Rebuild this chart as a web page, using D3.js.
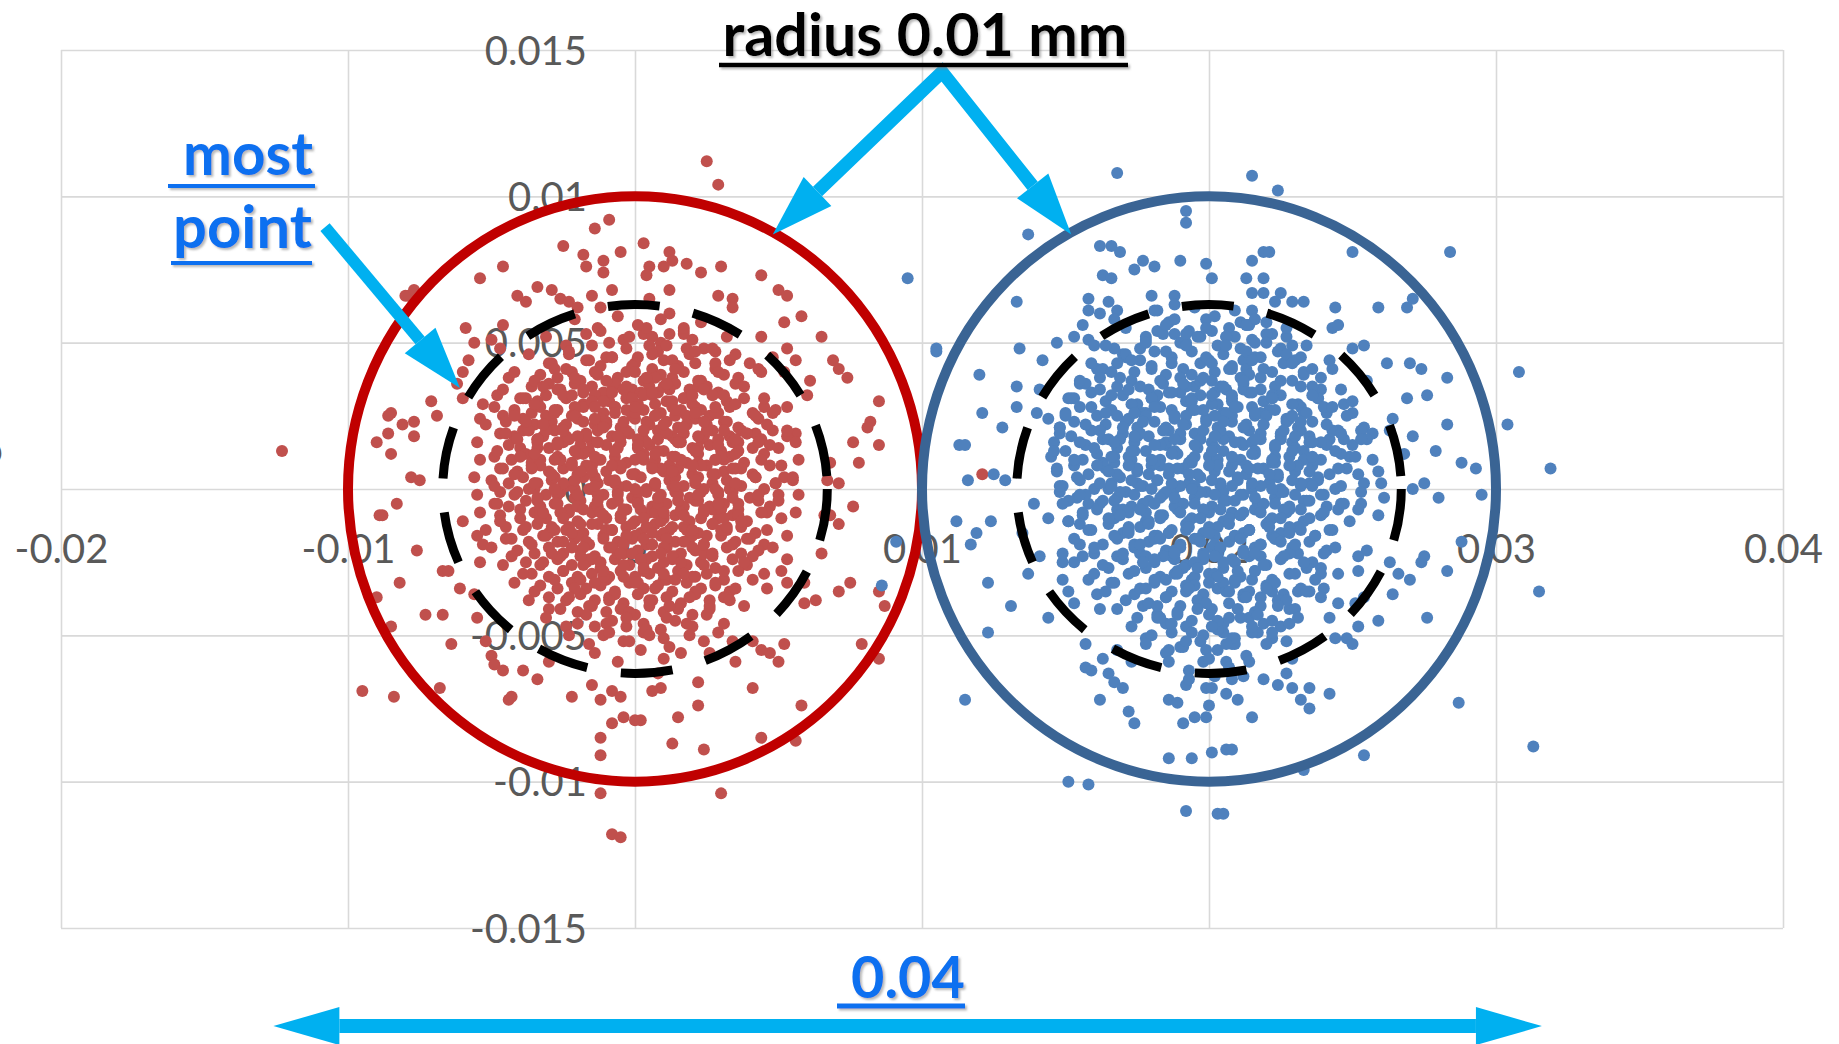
<!DOCTYPE html>
<html>
<head>
<meta charset="utf-8">
<script src="https://cdn.jsdelivr.net/npm/d3@7"></script>
<style>
  body { margin: 0; background: #fff; }
  svg { display: block; font-family: Lato, "Open Sans", sans-serif; }
</style>
</head>
<body>
<div id="chart"></div>
<script>
// all values in units of 0.0001 mm
var xTicks = [-200, -100, 0, 100, 200, 300, 400];
var xTickLabels = ["-0.02", "-0.01", "0", "0.01", "0.02", "0.03", "0.04"];
var yTicks = [-150, -100, -50, 0, 50, 100, 150];
var yTickLabels = ["-0.015", "-0.01", "-0.005", "0", "0.005", "0.01", "0.015"];

var centers = [[0, 0], [200, 0]];
var outerRadius = 100;          // 0.01 mm
var dashedRadius = [67, 63];    // drawn shape, slightly wider than tall

// red series: loose points first, then the dense core
var redPoints = [
  -9,92, -14,89, -25,83, -18,80, -11,78, -5,81, -17,76, -11,74, -46,76, -54,72, -34,69, -41,66, -38,64, -29,68, -26,65, -23,64, -20,62, -15,66, -8,68, -12,62,
  -79,66, -59,55, -46,56, -56,50, -50,51, -47,48, -58,44, -60,40, -44,38, -48,32, -62,36, -60,31, -53,29, -71,30, -69,25, -85,26, -81,22, -77,23, -90,16, -86,19,
  -85,12, -77,18, -54,24, -46,25, -42,26, -38,31, -39,20, -78,4, -75,3,
  25,112, 29,104, 3,84, 12,81, 13,78, 18,77, 5,76, 10,76, 23,74, 30,76, 4,73, 44,73, 12,68, 29,66, 34,65, 34,62, 50,68, 53,66, 12,60, 5,65,
  58,59, 52,57, 17,54, 3,53, 6,52, 44,52, 65,52, 18,48, 28,47, 33,44, 53,48, 56,44, 69,44, 71,41, 74,38, 48,45, 40,43, 44,40, 52,40, 61,37,
  60,32, 53,28, 85,30, 82,23, 81,21, 76,16, 85,15, 78,9, 71,2, 56,19, 53,18, 48,20, 48,26, 45,28, 42,19, 37,20, 68,9, 67,3, 52,4, 55,3,
  -83,-5, -88,-9, -76,-21, -60,-11, -55,-16, -53,-19, -54,-25, -67,-28, -65,-28, -61,-34, -56,-36, -82,-32, -90,-37, -73,-43, -67,-43, -85,-47, -64,-53, -95,-69, -84,-71, -68,-68,
  -55,-44, -52,-52, -50,-57, -49,-60, -46,-62, -39,-62, -34,-65, -30,-59, -44,-72, -43,-71, -22,-71, -15,-67, -12,-72, -8,-69, -5,-71, -8,-80, -4,-78, 0,-79, -12,-85, -12,-91,
  -12,-104, -8,-118, -5,-119,
  76,-6, 66,-9, 68,-9, 71,-12, 65,-22, 75,-32, 71,-35, 63,-38, 59,-39, 85,-35, 87,-40, 53,-24, 51,-28, 53,-32, 59,-32, 46,-34, 52,-53, 50,-59, 47,-56, 44,-55,
  41,-52, 79,-53, 85,-58, 58,-74, 44,-85, 56,-86, 41,-68, 35,-59, 34,-52, 29,-49, 26,-56, 22,-66, 22,-74, 15,-78, 13,-87, 24,-89, 30,-104, 9,-68, 6,-69, 8,-63, 2,-79,
  -123,13, -80,66, -77,68, -86,25, -89,-9, 121,5,
  // core
  -12,54, -4,51, 4,55, 9,50, 17,53,
  -23,46, -15,49, -10,45, -3,48, 1,45, 8,47, 11,49, 19,46, 24,48,
  -29,43, -24,41, -17,44, -12,42, -8,45, 0,43, 6,41, 10,44, 15,42, 21,43, 28,41,
  -33,39, -27,38, -22,40, -19,37, -13,39, -6,38, -3,40, 3,37, 9,39, 13,38, 17,40, 23,37, 31,39,
  -36,35, -30,36, -26,34, -21,36, -15,35, -11,33, -7,36, -1,34, 5,35, 8,33, 14,36, 19,34, 25,35, 29,33, 35,36,
  -40,31, -34,30, -31,32, -24,31, -18,29, -14,32, -9,30, -3,31, 1,29, 6,32, 11,30, 17,31, 20,29, 27,32, 32,30, 38,31,
  -42,27, -36,26, -33,28, -27,27, -22,25, -18,28, -11,26, -7,28, -1,25, 3,27, 9,26, 13,28, 18,25, 23,27, 29,26, 33,28, 41,26,
  -45,23, -39,24, -35,22, -29,23, -25,21, -20,24, -14,22, -10,23, -5,21, 0,24, 5,22, 11,23, 15,21, 21,24, 25,22, 31,23, 36,21, 43,24,
  -47,19, -42,18, -37,20, -32,18, -28,20, -23,17, -17,19, -13,20, -8,18, -2,19, 3,17, 8,20, 13,18, 17,19, 23,17, 27,20, 33,18, 39,19, 44,17,
  -44,15, -40,14, -34,16, -30,14, -25,16, -19,15, -16,13, -10,15, -5,16, 1,14, 5,15, 10,13, 16,16, 20,14, 26,15, 30,13, 36,16, 41,14, 47,15,
  -49,11, -43,10, -38,12, -33,10, -27,11, -22,9, -18,12, -13,10, -7,11, -3,9, 3,12, 7,10, 13,11, 18,9, 22,12, 28,10, 33,11, 38,9, 45,12,
  -46,7, -41,6, -36,8, -30,6, -25,7, -20,5, -15,8, -10,6, -5,7, 0,5, 6,8, 10,6, 15,7, 20,5, 25,8, 31,6, 35,7, 41,5, 47,8,
  -50,3, -44,2, -39,4, -34,2, -29,3, -24,1, -18,4, -13,2, -9,3, -3,1, 2,4, 7,2, 12,3, 17,1, 22,4, 27,2, 32,3, 37,1, 42,4, 49,2,
  -47,-1, -42,-2, -37,0, -31,-2, -26,-1, -21,-3, -16,0, -11,-2, -6,-1, -1,-3, 4,0, 9,-2, 14,-1, 19,-3, 24,0, 29,-2, 34,-1, 40,-3, 45,0, 50,-2,
  -49,-5, -44,-6, -38,-4, -33,-6, -28,-5, -23,-7, -19,-4, -14,-6, -8,-5, -4,-7, 1,-4, 6,-6, 11,-5, 16,-7, 21,-4, 26,-6, 31,-5, 36,-7, 43,-4, 47,-6,
  -47,-9, -40,-10, -35,-8, -31,-10, -25,-9, -20,-11, -15,-8, -10,-10, -5,-9, 0,-11, 5,-8, 10,-10, 14,-9, 19,-11, 24,-8, 29,-10, 34,-9, 39,-11, 46,-8,
  -45,-13, -39,-14, -34,-12, -28,-14, -23,-13, -18,-15, -13,-12, -8,-14, -3,-13, 2,-15, 7,-12, 12,-14, 17,-13, 22,-15, 27,-12, 32,-14, 37,-13, 42,-15,
  -43,-17, -37,-18, -32,-16, -27,-18, -21,-17, -16,-19, -11,-16, -6,-18, -1,-17, 4,-19, 9,-16, 14,-18, 19,-17, 24,-19, 30,-16, 35,-18, 40,-17, 45,-19,
  -41,-21, -35,-22, -30,-20, -25,-22, -19,-21, -14,-23, -9,-20, -4,-22, 1,-21, 6,-23, 11,-20, 16,-22, 21,-21, 27,-23, 32,-20, 37,-22, 43,-21,
  -38,-25, -33,-26, -27,-24, -22,-26, -17,-25, -12,-27, -7,-24, -2,-26, 3,-25, 8,-27, 13,-24, 18,-26, 23,-25, 28,-27, 34,-24, 39,-26,
  -36,-29, -30,-30, -25,-28, -20,-30, -15,-29, -10,-31, -5,-28, 0,-30, 5,-29, 10,-31, 15,-28, 20,-30, 25,-29, 31,-31, 36,-28,
  -33,-33, -27,-34, -22,-32, -17,-34, -12,-33, -7,-35, -2,-32, 3,-34, 8,-33, 13,-35, 18,-32, 23,-34, 28,-33, 33,-35,
  -30,-37, -24,-38, -19,-36, -14,-38, -9,-37, -4,-39, 1,-36, 6,-38, 11,-37, 16,-39, 21,-36, 26,-38, 31,-37,
  -26,-41, -20,-42, -15,-40, -10,-42, -5,-41, 0,-43, 5,-40, 10,-42, 15,-41, 20,-43, 26,-40,
  -20,-46, -14,-47, -8,-45, -3,-47, 3,-46, 9,-48, 14,-45, 20,-47,
  -11,-50, -4,-52, 3,-49, 10,-51,
  -27,34, -18,33, -8,34, 2,33, 12,34, 22,35,
  -31,25, -21,26, -12,24, -3,27, 7,25, 16,27, 26,25,
  -34,17, -24,18, -15,16, -5,18, 4,16, 14,17, 24,18, 34,16,
  -36,9, -26,10, -17,8, -7,9, 3,10, 12,8, 22,9, 31,10,
  -35,0, -25,2, -15,0, -6,1, 4,-1, 13,1, 23,-1, 33,0,
  -33,-7, -23,-8, -13,-6, -3,-7, 7,-8, 17,-6, 27,-7, 36,-9,
  -30,-15, -20,-16, -10,-14, 0,-16, 10,-15, 20,-16, 30,-14,
  -26,-23, -16,-24, -6,-22, 4,-24, 14,-23, 24,-22,
  -19,-31, -9,-30, 1,-32, 11,-31, 21,-30,
  // wider core
  -21,58, -13,55, -6,59, 1,56, 9,58, 17,55, 23,57,
  -31,52, -24,49, -17,53, -9,50, -2,52, 5,49, 12,53, 20,51, 27,48, 32,52,
  -37,46, -30,43, -23,47, -16,44, -8,45, -1,42, 6,46, 13,44, 21,47, 28,43, 35,46,
  -42,40, -35,37, -28,41, -21,38, -14,40, -7,36, 0,40, 7,38, 14,41, 22,37, 29,40, 36,38, 43,41,
  -46,34, -39,31, -32,35, -25,32, -18,34, -11,30, -4,34, 3,32, 10,35, 17,31, 24,34, 31,32, 38,35, 45,31,
  -49,28, -42,25, -35,29, -28,26, -21,28, -14,24, -7,28, 0,26, 7,29, 14,25, 21,28, 28,26, 35,29, 42,25, 49,27,
  -52,22, -45,19, -38,23, -31,20, -24,22, -17,18, -10,22, -3,20, 4,23, 11,19, 18,22, 25,20, 32,23, 39,19, 46,22, 53,20,
  -55,16, -48,13, -41,17, -34,14, -27,16, -20,12, -13,16, -6,14, 1,17, 8,13, 15,16, 22,14, 29,17, 36,13, 43,16, 50,14, 56,16,
  -54,10, -47,7, -40,11, -33,8, -26,10, -19,6, -12,10, -5,8, 2,11, 9,7, 16,10, 23,8, 30,11, 37,7, 44,10, 51,8, 57,10,
  -56,4, -49,1, -42,5, -35,2, -28,4, -21,0, -14,4, -7,2, 0,5, 7,1, 14,4, 21,2, 28,5, 35,1, 42,4, 49,2, 55,4,
  -55,-2, -48,-5, -41,-1, -34,-4, -27,-2, -20,-6, -13,-2, -6,-4, 1,-1, 8,-5, 15,-2, 22,-4, 29,-1, 36,-5, 43,-2, 50,-4, 57,-2,
  -54,-8, -47,-11, -40,-7, -33,-10, -26,-8, -19,-12, -12,-8, -5,-10, 2,-7, 9,-11, 16,-8, 23,-10, 30,-7, 37,-11, 44,-8, 51,-10, 56,-8,
  -52,-14, -45,-17, -38,-13, -31,-16, -24,-14, -17,-18, -10,-14, -3,-16, 4,-13, 11,-17, 18,-14, 25,-16, 32,-13, 39,-17, 46,-14, 53,-16,
  -50,-20, -43,-23, -36,-19, -29,-22, -22,-20, -15,-24, -8,-20, -1,-22, 6,-19, 13,-23, 20,-20, 27,-22, 34,-19, 41,-23, 48,-20,
  -46,-26, -39,-29, -32,-25, -25,-28, -18,-26, -11,-30, -4,-26, 3,-28, 10,-25, 17,-29, 24,-26, 31,-28, 38,-25, 45,-29,
  -42,-32, -35,-35, -28,-31, -21,-34, -14,-32, -7,-36, 0,-32, 7,-34, 14,-31, 21,-35, 28,-32, 35,-34, 41,-31,
  -37,-38, -30,-41, -23,-37, -16,-40, -9,-38, -2,-42, 5,-38, 12,-40, 19,-37, 26,-41, 33,-38, 38,-40,
  -31,-44, -24,-47, -17,-43, -10,-46, -3,-44, 4,-48, 11,-44, 18,-46, 25,-43, 31,-46,
  -23,-50, -16,-53, -9,-49, -2,-52, 5,-50, 12,-54, 19,-50, 24,-52,
  -14,-56, -6,-59, 2,-55, 10,-58, 16,-56,
  // densest middle
  -10,37, -3,35, 4,38, 11,36,
  -22,32, -15,30, -8,33, -1,31, 6,33, 13,30, 20,32,
  -28,27, -21,25, -14,28, -7,26, 0,28, 7,25, 14,27, 21,26, 28,28,
  -32,22, -25,20, -18,23, -11,21, -4,23, 3,20, 10,22, 17,21, 24,23, 31,20,
  -34,17, -27,15, -20,18, -13,16, -6,18, 1,15, 8,17, 15,16, 22,18, 29,15, 35,17,
  -35,12, -28,10, -21,13, -14,11, -7,13, 0,10, 7,12, 14,11, 21,13, 28,10, 35,12,
  -36,7, -29,5, -22,8, -15,6, -8,8, -1,5, 6,7, 13,6, 20,8, 27,5, 34,7,
  -35,2, -28,0, -21,3, -14,1, -7,3, 0,0, 7,2, 14,1, 21,3, 28,0, 35,2,
  -34,-3, -27,-5, -20,-2, -13,-4, -6,-2, 1,-5, 8,-3, 15,-4, 22,-2, 29,-5, 34,-3,
  -32,-8, -25,-10, -18,-7, -11,-9, -4,-7, 3,-10, 10,-8, 17,-9, 24,-7, 31,-10,
  -29,-13, -22,-15, -15,-12, -8,-14, -1,-12, 6,-15, 13,-13, 20,-14, 27,-12,
  -25,-18, -18,-20, -11,-17, -4,-19, 3,-17, 10,-20, 17,-18, 24,-19,
  -19,-23, -12,-25, -5,-22, 2,-24, 9,-22, 16,-25,
  -11,-28, -4,-30, 3,-27, 10,-29
];

// blue series
var bluePoints = [
  95,72, 105,47, 113,15, 112,-11, 91,-18, 86,-33, 115,-72,
  168,108, 137,87, 192,95, 192,91, 162,83, 166,83, 169,81, 190,78, 199,77, 177,78, 174,75, 181,76, 163,73, 166,72, 201,72,
  133,64, 158,65, 165,64, 158,61, 162,60, 168,61, 167,58, 180,66, 188,66, 188,63, 182,61, 156,56, 153,52, 147,50, 158,51, 160,49,
  134,48, 142,44, 105,48, 120,39, 133,35, 133,28, 121,26, 128,21, 115,15, 116,3, 125,5, 129,3, 161,41, 155,36, 151,31, 141,34,
  140,26, 144,24, 148,21, 167,48, 171,45, 176,48, 182,54, 188,53, 192,50, 197,52, 201,54,
  215,107, 224,102, 250,81, 284,81, 219,81, 221,81, 215,78, 213,72, 219,72, 215,67, 219,67, 225,67, 223,64, 229,64, 233,64, 215,61,
  244,62, 259,62, 269,62, 271,65, 211,57, 213,56, 220,57, 243,55, 245,56, 215,51, 206,52, 250,48, 254,49, 262,43, 270,43, 274,41,
  283,38, 308,40, 269,31, 276,32, 264,24, 263,20, 271,18, 283,22, 304,22, 279,13, 288,9, 293,7, 319,7, 268,12, 275,2, 243,41,
  233,39, 255,37, 247,29, 250,26, 254,21, 257,19, 232,45, 225,48, 229,49, 227,52, 212,44, 216,45, 213,41, 207,41, 239,34, 238,31,
  232,28, 241,26, 245,20, 253,20, 250,15, 255,17, 242,17, 249,11, 257,10, 259,6, 254,2, 260,2,
  119,-15, 117,-19, 124,-11, 123,-32, 131,-40, 123,-49, 144,-44, 137,-29, 135,-15, 151,-100, 158,-101, 192,-110, 203,-111,
  186,-92, 194,-92, 201,-90, 162,-72, 172,-76, 174,-80, 191,-80, 195,-78, 199,-78, 200,-74, 186,-72, 189,-73, 192,-67,
  157,-61, 159,-62, 165,-63, 167,-66, 170,-68, 173,-59, 168,-55, 163,-58, 157,-53, 178,-51, 182,-44, 185,-46, 186,-55, 190,-54,
  198,-59, 199,-68, 202,-64, 149,-25, 149,-31, 151,-35, 153,-39, 161,-36, 162,-41, 158,-31, 166,-32, 168,-23, 153,-25, 149,-22,
  155,-19, 160,-22, 165,-27, 139,-5, 144,-10, 141,-23, 155,-12, 151,-11, 158,-5, 154,-3, 148,-1, 174,-36, 177,-40, 182,-43,
  280,-3, 261,-3, 259,-9, 253,-5, 252,-7, 241,-6, 295,-2, 271,0, 255,-21, 252,-23, 252,-28, 245,-29, 239,-27, 239,-29, 240,-34,
  263,-25, 266,-29, 270,-31, 274,-25, 275,-23, 283,-28, 288,-18, 315,-35, 276,-44, 264,-36, 259,-45, 254,-37, 251,-39, 252,-47,
  248,-51, 250,-53, 244,-51, 245,-39, 242,-44, 229,-58, 227,-63, 224,-67, 229,-68, 235,-68, 242,-70, 232,-72, 235,-75, 215,-78,
  210,-72, 206,-70, 219,-65, 212,-64, 206,-59, 287,-73, 313,-88, 254,-91, 233,-96, 206,-89, 208,-89, 205,-111, 225,-47, 227,-52,
  222,-51, 217,-49, 219,-46, 214,-44, 207,-44, 205,-49, 208,-53, 231,-35, 235,-35, 239,-37, 228,-41, 225,-38, 222,-35, 218,-37, 212,-36,
  // core
  186,57, 193,54, 199,58, 207,55, 214,56,
  178,51, 184,53, 190,50, 196,52, 203,49, 209,52, 216,50, 222,53,
  170,46, 176,44, 181,47, 187,45, 194,47, 200,44, 205,46, 211,48, 218,45, 224,47, 230,44,
  163,41, 168,43, 174,40, 180,42, 185,39, 191,41, 197,43, 202,40, 208,42, 214,39, 219,41, 226,43, 233,40,
  157,36, 162,38, 168,35, 173,37, 179,34, 184,36, 190,38, 195,35, 201,37, 206,34, 212,36, 218,38, 223,35, 229,37, 236,35,
  153,31, 159,33, 164,30, 170,32, 175,29, 181,31, 186,33, 192,30, 197,32, 203,29, 208,31, 214,33, 219,30, 225,32, 231,29, 238,31,
  150,26, 155,28, 161,25, 166,27, 172,24, 177,26, 183,28, 188,25, 194,27, 199,24, 205,26, 210,28, 216,25, 221,27, 227,24, 233,26, 240,28,
  148,21, 153,23, 159,20, 164,22, 170,19, 175,21, 181,23, 186,20, 192,22, 197,19, 203,21, 208,23, 214,20, 219,22, 225,19, 231,21, 236,23, 243,20,
  146,16, 152,18, 157,15, 163,17, 168,14, 174,16, 179,18, 185,15, 190,17, 196,14, 201,16, 207,18, 212,15, 218,17, 223,14, 229,16, 235,18, 241,15, 247,17,
  145,11, 150,13, 156,10, 161,12, 167,9, 172,11, 178,13, 183,10, 189,12, 194,9, 200,11, 205,13, 211,10, 216,12, 222,9, 228,11, 233,13, 239,10, 246,12,
  147,6, 153,8, 158,5, 164,7, 169,4, 175,6, 180,8, 186,5, 191,7, 197,4, 202,6, 208,8, 213,5, 219,7, 224,4, 230,6, 236,8, 242,5, 248,7,
  149,1, 155,3, 160,0, 166,2, 171,-1, 177,1, 182,3, 188,0, 193,2, 199,-1, 204,1, 210,3, 215,0, 221,2, 226,-1, 232,1, 238,3, 244,0,
  151,-4, 157,-2, 162,-5, 168,-3, 173,-6, 179,-4, 184,-2, 190,-5, 195,-3, 201,-6, 206,-4, 212,-2, 217,-5, 223,-3, 228,-6, 234,-4, 240,-2, 246,-5,
  156,-9, 161,-7, 167,-10, 172,-8, 178,-11, 183,-9, 189,-7, 194,-10, 200,-8, 205,-11, 211,-9, 216,-7, 222,-10, 227,-8, 233,-11, 239,-9, 245,-7,
  159,-14, 165,-12, 170,-15, 176,-13, 181,-16, 187,-14, 192,-12, 198,-15, 203,-13, 209,-16, 214,-14, 220,-12, 225,-15, 231,-13, 237,-16, 243,-14,
  163,-19, 168,-17, 174,-20, 179,-18, 185,-21, 190,-19, 196,-17, 201,-20, 207,-18, 212,-21, 218,-19, 223,-17, 229,-20, 235,-18, 241,-21,
  170,-24, 176,-22, 181,-25, 187,-23, 192,-26, 198,-24, 203,-22, 209,-25, 214,-23, 220,-26, 225,-24, 231,-22, 236,-25,
  172,-29, 178,-27, 183,-30, 189,-28, 194,-31, 200,-29, 205,-27, 211,-30, 216,-28, 222,-31, 228,-29, 234,-27,
  176,-34, 181,-32, 187,-35, 192,-33, 198,-36, 203,-34, 209,-32, 214,-35, 220,-33, 226,-36, 232,-34,
  179,-39, 185,-37, 190,-40, 196,-38, 201,-41, 207,-39, 212,-37, 218,-40, 224,-38, 230,-41,
  183,-44, 189,-42, 194,-45, 200,-43, 205,-46, 211,-44, 216,-42, 222,-45,
  187,-49, 192,-47, 198,-50, 203,-48, 209,-51, 215,-49,
  191,-54, 197,-52, 203,-55, 209,-53,
  172,34, 182,32, 192,35, 202,33, 212,34, 222,32,
  168,25, 178,26, 188,24, 198,27, 208,25, 218,26, 228,24,
  165,17, 175,18, 185,16, 195,19, 205,17, 215,16, 225,18, 235,16,
  163,9, 173,10, 183,8, 193,9, 203,10, 213,8, 223,9, 233,10,
  165,0, 175,2, 185,-1, 195,1, 205,-1, 215,1, 225,0, 235,2,
  168,-7, 178,-8, 188,-6, 198,-7, 208,-8, 218,-6, 228,-7,
  172,-15, 182,-16, 192,-14, 202,-16, 212,-15, 222,-16, 232,-14,
  178,-23, 188,-24, 198,-22, 208,-24, 218,-23, 228,-22,
  185,-31, 195,-30, 205,-32, 215,-31,
  // wider core
  181,61, 188,58, 195,62, 202,59, 209,61, 216,58,
  171,55, 178,52, 185,56, 192,53, 199,55, 206,52, 213,56, 220,53, 227,55,
  164,49, 171,46, 178,50, 185,47, 192,49, 199,45, 206,49, 213,47, 220,50, 227,46, 234,49,
  159,43, 166,40, 173,44, 180,41, 187,43, 194,39, 201,43, 208,41, 215,44, 222,40, 229,43, 236,41, 242,44,
  155,37, 162,34, 169,38, 176,35, 183,37, 190,33, 197,37, 204,35, 211,38, 218,34, 225,37, 232,35, 239,38, 246,34,
  152,31, 159,28, 166,32, 173,29, 180,31, 187,27, 194,31, 201,29, 208,32, 215,28, 222,31, 229,29, 236,32, 243,28, 250,30,
  150,25, 157,22, 164,26, 171,23, 178,25, 185,21, 192,25, 199,23, 206,26, 213,22, 220,25, 227,23, 234,26, 241,22, 248,25,
  148,19, 155,16, 162,20, 169,17, 176,19, 183,15, 190,19, 197,17, 204,20, 211,16, 218,19, 225,17, 232,20, 239,16, 246,19, 253,17,
  146,13, 153,10, 160,14, 167,11, 174,13, 181,9, 188,13, 195,11, 202,14, 209,10, 216,13, 223,11, 230,14, 237,10, 244,13, 251,11,
  147,7, 154,4, 161,8, 168,5, 175,7, 182,3, 189,7, 196,5, 203,8, 210,4, 217,7, 224,5, 231,8, 238,4, 245,7, 252,5,
  148,1, 155,-2, 162,2, 169,-1, 176,1, 183,-3, 190,1, 197,-1, 204,2, 211,-2, 218,1, 225,-1, 232,2, 239,-2, 246,1, 253,-1,
  149,-5, 156,-8, 163,-4, 170,-7, 177,-5, 184,-9, 191,-5, 198,-7, 205,-4, 212,-8, 219,-5, 226,-7, 233,-4, 240,-8, 247,-5,
  151,-11, 158,-14, 165,-10, 172,-13, 179,-11, 186,-15, 193,-11, 200,-13, 207,-10, 214,-14, 221,-11, 228,-13, 235,-10, 242,-14, 249,-11,
  153,-17, 160,-20, 167,-16, 174,-19, 181,-17, 188,-21, 195,-17, 202,-19, 209,-16, 216,-20, 223,-17, 230,-19, 237,-16, 244,-20,
  156,-23, 163,-26, 170,-22, 177,-25, 184,-23, 191,-27, 198,-23, 205,-25, 212,-22, 219,-26, 226,-23, 233,-25, 240,-22,
  160,-29, 167,-32, 174,-28, 181,-31, 188,-29, 195,-33, 202,-29, 209,-31, 216,-28, 223,-32, 230,-29, 237,-31,
  164,-35, 171,-38, 178,-34, 185,-37, 192,-35, 199,-39, 206,-35, 213,-37, 220,-34, 227,-38, 234,-35,
  168,-41, 175,-44, 182,-40, 189,-43, 196,-41, 203,-45, 210,-41, 217,-43, 224,-40, 231,-44,
  173,-47, 180,-50, 187,-46, 194,-49, 201,-47, 208,-51, 215,-47, 222,-49, 228,-46,
  178,-53, 185,-56, 192,-52, 199,-55, 206,-53, 213,-57, 220,-53,
  186,-59, 193,-62, 200,-58, 207,-61, 214,-59,
  193,-65, 201,-68, 208,-65,
  // densest middle
  191,36, 198,38, 205,35, 212,37,
  180,31, 187,33, 194,30, 201,32, 208,30, 215,33, 222,31,
  174,26, 181,28, 188,25, 195,27, 202,25, 209,28, 216,26, 223,27, 229,25,
  170,21, 177,23, 184,20, 191,22, 198,20, 205,23, 212,21, 219,22, 226,20, 232,23,
  167,16, 174,18, 181,15, 188,17, 195,15, 202,18, 209,16, 216,17, 223,15, 230,18, 236,16,
  166,11, 173,13, 180,10, 187,12, 194,10, 201,13, 208,11, 215,12, 222,10, 229,13, 236,11,
  165,6, 172,8, 179,5, 186,7, 193,5, 200,8, 207,6, 214,7, 221,5, 228,8, 235,6,
  166,1, 173,3, 180,0, 187,2, 194,0, 201,3, 208,1, 215,2, 222,0, 229,3, 236,1,
  167,-4, 174,-2, 181,-5, 188,-3, 195,-5, 202,-2, 209,-4, 216,-3, 223,-5, 230,-2, 235,-4,
  169,-9, 176,-7, 183,-10, 190,-8, 197,-10, 204,-7, 211,-9, 218,-8, 225,-10, 232,-7,
  172,-14, 179,-12, 186,-15, 193,-13, 200,-15, 207,-12, 214,-14, 221,-13, 228,-15,
  176,-19, 183,-17, 190,-20, 197,-18, 204,-20, 211,-17, 218,-19, 225,-18,
  181,-24, 188,-22, 195,-25, 202,-23, 209,-25, 216,-22,
  189,-29, 196,-27, 203,-30, 210,-28,
  193,-34, 200,-32, 207,-35
];

// annotation arrows, in data units
var titleArrowApex = [107, 142.5];
var titleArrowTips = [[48, 87], [152, 87]];
var pointArrow = [[-108, 89.5], [-61, 34.5]];
var spanArrow = [[-126, -183.5], [316, -183.5]];

var svgWidth = 1839;
var svgHeight = 1044;
var cyan = "#00B0F0";
var annoBlue = "#0B6FF0";

function toPairs(a) {
    var out = [];
    for (var i = 0; i < a.length; i += 2) out.push([a[i], a[i + 1]]);
    return out;
}

var svg = d3.select("#chart")
    .append("svg")
    .attr("width", svgWidth)
    .attr("height", svgHeight);

svg.append("rect").attr("width", svgWidth).attr("height", svgHeight).attr("fill", "#fff");

var defs = svg.append("defs");
defs.append("filter")
    .attr("id", "shadow")
    .attr("x", "-10%").attr("y", "-20%").attr("width", "130%").attr("height", "150%")
    .append("feDropShadow")
    .attr("dx", 2).attr("dy", 2).attr("stdDeviation", 1.2)
    .attr("flood-color", "#7f7f7f").attr("flood-opacity", 0.55);

var x = d3.scaleLinear().domain([-200, 400]).range([61, 1783]);
var y = d3.scaleLinear().domain([-150, 150]).range([928, 50]);

// gridlines
var xGrid = svg.append("g")
    .attr("transform", `translate(0, ${y(-150)})`)
    .call(d3.axisBottom(x).tickValues(xTicks).tickSize(-(y(-150) - y(150))).tickFormat(""));
var yGrid = svg.append("g")
    .attr("transform", `translate(${x(-200)}, 0)`)
    .call(d3.axisLeft(y).tickValues(yTicks).tickSize(-(x(400) - x(-200))).tickFormat(""));
[xGrid, yGrid].forEach(g => {
    g.select(".domain").remove();
    g.selectAll("line").attr("stroke", "#d9d9d9").attr("stroke-width", 1.6);
});

// tick labels, sitting on the zero lines
var xAxis = svg.append("g")
    .attr("transform", `translate(0, ${y(0)})`)
    .call(d3.axisBottom(x).tickValues(xTicks).tickSize(0).tickFormat((d, i) => xTickLabels[i]));
xAxis.selectAll("text").attr("y", 60).attr("dy", "0.35em");
var yAxis = svg.append("g")
    .attr("transform", `translate(${x(0)}, 0)`)
    .call(d3.axisLeft(y).tickValues(yTicks).tickSize(0).tickPadding(48).tickFormat((d, i) => yTickLabels[i]));
yAxis.selectAll("text").attr("dy", "0.35em");
[xAxis, yAxis].forEach(g => {
    g.select(".domain").remove();
    g.selectAll("text")
        .attr("fill", "#595959")
        .style("font-family", "Lato, sans-serif")
        .style("font-size", "40px");
});

// cut-off glyph at the left edge
svg.append("text")
    .attr("x", 3).attr("y", 450).attr("dy", "0.35em")
    .attr("text-anchor", "end")
    .attr("fill", "#595959")
    .style("font-size", "40px")
    .text("o");

// points
svg.append("g").selectAll("circle")
    .data(toPairs(redPoints))
    .enter()
    .append("circle")
    .attr("cx", d => x(d[0]))
    .attr("cy", d => y(d[1]))
    .attr("r", 6)
    .attr("fill", "#C0504D");

svg.append("g").selectAll("circle")
    .data(toPairs(bluePoints))
    .enter()
    .append("circle")
    .attr("cx", d => x(d[0]))
    .attr("cy", d => y(d[1]))
    .attr("r", 6)
    .attr("fill", "#4F81BD");

// radius 0.01 circles
var ringColors = ["#C00000", "#3A6494"];
centers.forEach((c, i) => {
    svg.append("ellipse")
        .attr("cx", x(c[0]))
        .attr("cy", y(c[1]))
        .attr("rx", x(c[0] + outerRadius) - x(c[0]))
        .attr("ry", y(c[1]) - y(c[1] + outerRadius))
        .attr("fill", "none")
        .attr("stroke", ringColors[i])
        .attr("stroke-width", 10);
});

// dashed inner circles
centers.forEach(c => {
    svg.append("ellipse")
        .attr("cx", x(c[0]))
        .attr("cy", y(c[1]))
        .attr("rx", x(c[0] + dashedRadius[0]) - x(c[0]))
        .attr("ry", y(c[1]) - y(c[1] + dashedRadius[1]))
        .attr("fill", "none")
        .attr("stroke", "#000")
        .attr("stroke-width", 9)
        .attr("stroke-dasharray", "52 34");
});

// arrows
function head(tip, from, len, wid) {
    var dx = tip[0] - from[0], dy = tip[1] - from[1];
    var L = Math.sqrt(dx * dx + dy * dy);
    var ux = dx / L, uy = dy / L;
    var bx = tip[0] - ux * len, by = tip[1] - uy * len;
    var nx = -uy * wid / 2, ny = ux * wid / 2;
    return { base: [bx, by], pts: [[tip[0], tip[1]], [bx + nx, by + ny], [bx - nx, by - ny]] };
}
var arrowLayer = svg.append("g");
function drawHead(h) {
    arrowLayer.append("polygon")
        .attr("points", h.pts.map(p => p.join(",")).join(" "))
        .attr("fill", cyan);
}
function px(p) { return [x(p[0]), y(p[1])]; }

var apex = px(titleArrowApex);
var hL = head(px(titleArrowTips[0]), apex, 62, 40);
var hR = head(px(titleArrowTips[1]), apex, 62, 40);
arrowLayer.append("path")
    .attr("d", `M${hL.base[0]},${hL.base[1]} L${apex[0]},${apex[1]} L${hR.base[0]},${hR.base[1]}`)
    .attr("fill", "none")
    .attr("stroke", cyan)
    .attr("stroke-width", 13)
    .attr("stroke-linejoin", "miter")
    .attr("stroke-miterlimit", 10);
drawHead(hL);
drawHead(hR);

var pTail = px(pointArrow[0]), pTip = px(pointArrow[1]);
var hP = head(pTip, pTail, 62, 40);
arrowLayer.append("line")
    .attr("x1", pTail[0]).attr("y1", pTail[1])
    .attr("x2", hP.base[0]).attr("y2", hP.base[1])
    .attr("stroke", cyan).attr("stroke-width", 12);
drawHead(hP);

var sA = px(spanArrow[0]), sB = px(spanArrow[1]);
var hA = head(sA, sB, 66, 38);
var hB = head(sB, sA, 66, 38);
arrowLayer.append("line")
    .attr("x1", hA.base[0]).attr("y1", hA.base[1])
    .attr("x2", hB.base[0]).attr("y2", hB.base[1])
    .attr("stroke", cyan).attr("stroke-width", 14);
drawHead(hA);
drawHead(hB);

// annotation texts
function label(txt, xPos, yPos, anchor, color, width, ul) {
    var g = svg.append("g").attr("filter", "url(#shadow)");
    var t = g.append("text")
        .attr("x", xPos).attr("y", yPos)
        .attr("text-anchor", anchor)
        .attr("fill", color)
        .style("font-family", "Lato, sans-serif")
        .style("font-weight", "700")
        .style("font-size", "58px")
        .text(txt);
    var w = t.node().getComputedTextLength();
    t.style("font-size", (58 * width / w) + "px");
    g.append("rect")
        .attr("x", ul[0]).attr("y", ul[2] - ul[3] / 2)
        .attr("width", ul[1] - ul[0]).attr("height", ul[3])
        .attr("fill", color);
}
label("radius 0.01 mm", 925, 56, "middle", "#000", 405, [719, 1128, 65, 4.5]);
label("most", 313, 175, "end", annoBlue, 130, [168, 315, 186, 4]);
label("point", 312, 248, "end", annoBlue, 139, [171, 312, 263, 4]);
label("0.04", 908, 998, "middle", annoBlue, 114, [837, 965, 1006, 5]);
</script>
</body>
</html>
